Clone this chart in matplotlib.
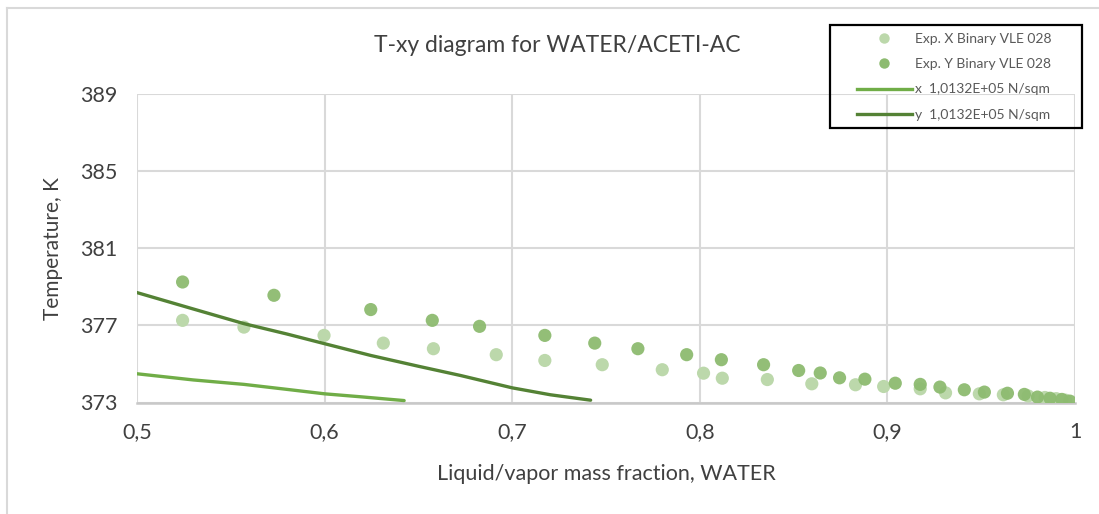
import matplotlib.pyplot as plt
from matplotlib.lines import Line2D
from matplotlib.patches import Rectangle

plt.rcParams['font.family'] = ['Lato', 'DejaVu Sans']

# experimental liquid (x) points
exp_x_frac = [0.5243, 0.557, 0.5997, 0.6313, 0.658, 0.6915, 0.7174, 0.748, 0.780, 0.802,
              0.812, 0.836, 0.8597, 0.883, 0.898, 0.9175, 0.931, 0.949, 0.9618, 0.975,
              0.984, 0.990, 0.995]
exp_x_temp = [377.26, 376.91, 376.48, 376.08, 375.79, 375.48, 375.18, 374.96, 374.70, 374.52,
              374.26, 374.19, 373.97, 373.92, 373.83, 373.71, 373.50, 373.45, 373.40, 373.34,
              373.26, 373.20, 373.12]

# experimental vapor (y) points
exp_y_frac = [0.5243, 0.573, 0.6246, 0.6574, 0.6826, 0.7174, 0.744, 0.767, 0.793, 0.8115,
              0.834, 0.8527, 0.8642, 0.8745, 0.888, 0.9042, 0.9175, 0.928, 0.941, 0.9517,
              0.964, 0.973, 0.980, 0.9867, 0.993, 0.9973]
exp_y_temp = [379.25, 378.56, 377.82, 377.26, 376.95, 376.48, 376.08, 375.79, 375.48, 375.22,
              374.96, 374.66, 374.53, 374.28, 374.21, 374.00, 373.94, 373.80, 373.66, 373.54,
              373.48, 373.42, 373.28, 373.22, 373.16, 373.07]

# model curves at 1,0132E+05 N/sqm
line_x_frac = [0.5, 0.53, 0.557, 0.58, 0.6, 0.62, 0.6424]
line_x_temp = [374.49, 374.17, 373.94, 373.68, 373.45, 373.29, 373.10]
line_y_frac = [0.5, 0.53, 0.557, 0.58, 0.6, 0.6246, 0.65, 0.6725, 0.700, 0.7204, 0.7418]
line_y_temp = [378.70, 377.85, 377.09, 376.55, 376.05, 375.44, 374.88, 374.40, 373.76, 373.40, 373.12]

xticks = [0.5, 0.6, 0.7, 0.8, 0.9, 1.0]
xtick_labels = ['0,5', '0,6', '0,7', '0,8', '0,9', '1']
yticks = [373, 377, 381, 385, 389]

light = '#BCD8AB'
mid = '#8DBB70'
green = '#70AD47'
dark = '#548235'
grid = '#D9D9D9'
text = '#404040'

W, H = 1099, 514
fig = plt.figure(figsize=(10.99, 5.14), dpi=100)
ax = fig.add_axes([137 / W, 1 - 402.5 / H, (1075 - 137) / W, (402.5 - 94) / H])

ax.scatter(exp_x_frac, exp_x_temp, s=90, color=light, edgecolors='none', zorder=3)
ax.scatter(exp_y_frac, exp_y_temp, s=90, color=mid, edgecolors='none', alpha=0.95, zorder=3)
ax.plot(line_x_frac, line_x_temp, color=green, lw=2.4, solid_capstyle='round', zorder=4)
ax.plot(line_y_frac, line_y_temp, color=dark, lw=2.4, solid_capstyle='round', zorder=4)

ax.set_xlim(0.5, 1.0)
ax.set_ylim(373, 389)
ax.set_xticks(xticks)
ax.set_xticklabels(xtick_labels)
ax.set_yticks(yticks)
ax.grid(True, color=grid, lw=1.5)
ax.set_axisbelow(True)
for s in ['top', 'right', 'left']:
    ax.spines[s].set_visible(False)
ax.spines['bottom'].set_color('#C8C8C8')
ax.spines['bottom'].set_linewidth(1.8)
ax.tick_params(length=0, labelsize=15.5, colors=text, pad=14)

ax.set_xlabel('Liquid/vapor mass fraction, WATER', fontsize=15.5, color=text, labelpad=16)
ax.set_ylabel('Temperature, K', fontsize=15, color=text, labelpad=12)
fig.text(557 / W, 1 - 45 / H, 'T-xy diagram for WATER/ACETI-AC', fontsize=16.5,
         color=text, ha='center', va='center')

handles = [
    Line2D([], [], ls='none', marker='o', ms=7.5, color=light, mec='none'),
    Line2D([], [], ls='none', marker='o', ms=7.5, color=mid, mec='none'),
    Line2D([], [], color=green, lw=2.4),
    Line2D([], [], color=dark, lw=2.4),
]
labels = ['Exp. X Binary VLE 028', 'Exp. Y Binary VLE 028',
          'x  1,0132E+05 N/sqm', 'y  1,0132E+05 N/sqm']
leg = fig.legend(handles, labels, loc='upper left', bbox_to_anchor=(857 / W, 1 - 33 / H),
                 fontsize=10, frameon=False, handlelength=3.95, handletextpad=0.25,
                 labelspacing=0.95, borderpad=0, borderaxespad=0)
for t in leg.get_texts():
    t.set_color('#595959')
fig.add_artist(Rectangle((830 / W, 1 - 128 / H), 252 / W, 103 / H, transform=fig.transFigure,
                         fill=False, ec='black', lw=1.6))

# chart area border (top and left visible)
fig.add_artist(Line2D([7 / W, 1], [1 - 8 / H, 1 - 8 / H], transform=fig.transFigure,
                      color=grid, lw=1.5))
fig.add_artist(Line2D([7 / W, 7 / W], [0, 1 - 8 / H], transform=fig.transFigure,
                      color=grid, lw=1.5))

fig.savefig('out.png', dpi=100)
